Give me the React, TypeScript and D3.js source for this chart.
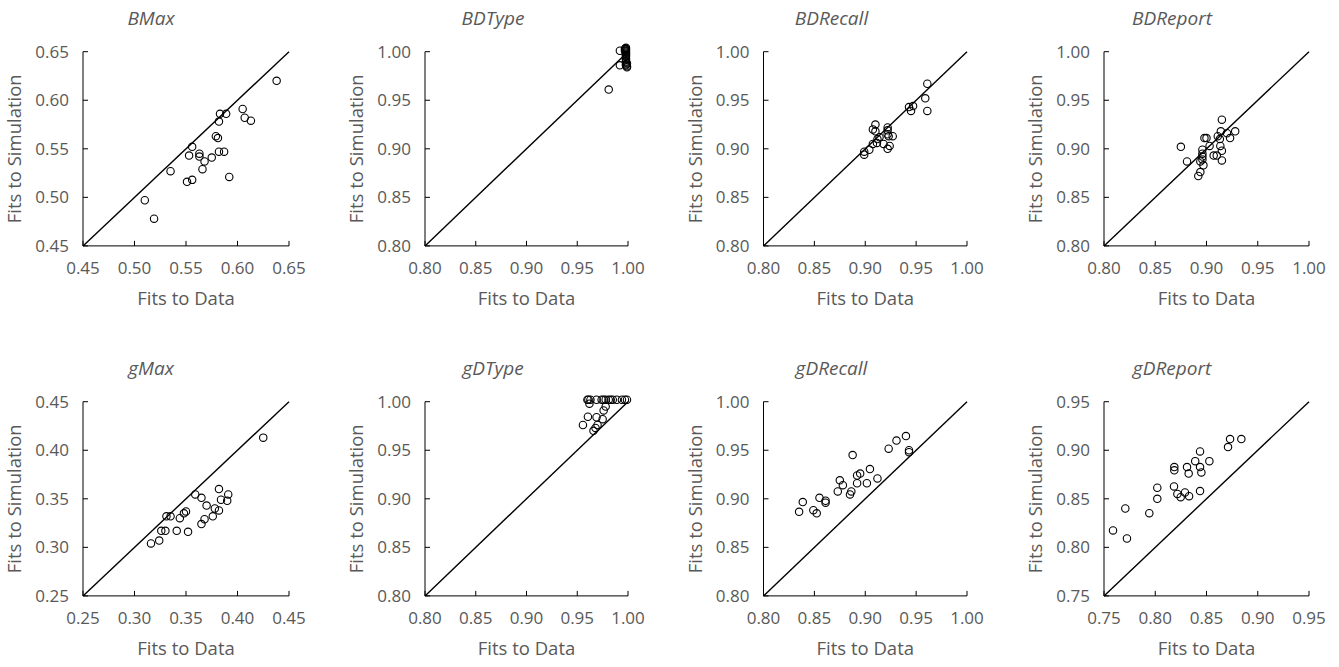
import React from "react";
import * as d3 from "d3";

// ---------- data ----------
const titles = ["BMax", "BDType", "BDRecall", "BDReport", "gMax", "gDType", "gDRecall", "gDReport"];
const domainLo = [0.45, 0.8, 0.8, 0.8, 0.25, 0.8, 0.8, 0.75];
const domainHi = [0.65, 1.0, 1.0, 1.0, 0.45, 1.0, 1.0, 0.95];

const bmaxX = [0.638, 0.605, 0.607, 0.613, 0.583, 0.589, 0.582, 0.579, 0.581, 0.556, 0.553, 0.563, 0.563, 0.568, 0.575, 0.582, 0.587, 0.566, 0.592, 0.535, 0.551, 0.556, 0.510, 0.519];
const bmaxY = [0.620, 0.591, 0.582, 0.579, 0.586, 0.586, 0.578, 0.563, 0.561, 0.552, 0.543, 0.545, 0.542, 0.537, 0.541, 0.547, 0.547, 0.529, 0.521, 0.527, 0.516, 0.518, 0.497, 0.478];

const bdtypeX = [0.981, 0.992, 0.992, 0.998, 0.998, 0.998, 0.998, 0.998, 0.998, 0.998, 0.998, 0.998, 0.998, 0.998, 0.998, 0.998, 0.998, 0.998, 0.998, 0.999, 0.999, 0.997, 0.997, 0.999];
const bdtypeY = [0.961, 1.001, 0.986, 1.004, 1.003, 1.002, 1.001, 1.000, 0.999, 0.998, 0.997, 0.996, 0.995, 0.993, 0.992, 0.990, 0.989, 0.987, 0.986, 0.985, 0.984, 1.003, 1.001, 0.988];

const bdrecallX = [0.961, 0.959, 0.961, 0.943, 0.947, 0.945, 0.910, 0.9075, 0.910, 0.922, 0.922, 0.922, 0.923, 0.927, 0.914, 0.918, 0.924, 0.922, 0.9075, 0.9115, 0.904, 0.899, 0.899, 0.912];
const bdrecallY = [0.967, 0.952, 0.939, 0.943, 0.944, 0.939, 0.925, 0.920, 0.918, 0.922, 0.919, 0.915, 0.913, 0.913, 0.912, 0.905, 0.903, 0.900, 0.905, 0.906, 0.899, 0.897, 0.894, 0.910];

const bdreportX = [0.875, 0.881, 0.915, 0.914, 0.928, 0.920, 0.923, 0.911, 0.913, 0.898, 0.900, 0.903, 0.896, 0.9135, 0.915, 0.915, 0.907, 0.910, 0.896, 0.896, 0.894, 0.897, 0.894, 0.892, 0.896];
const bdreportY = [0.902, 0.887, 0.930, 0.918, 0.918, 0.916, 0.911, 0.913, 0.910, 0.911, 0.911, 0.903, 0.899, 0.903, 0.898, 0.888, 0.893, 0.893, 0.895, 0.892, 0.887, 0.883, 0.876, 0.872, 0.889];

const gmaxX = [0.425, 0.359, 0.365, 0.382, 0.391, 0.390, 0.384, 0.370, 0.378, 0.382, 0.376, 0.368, 0.365, 0.350, 0.348, 0.344, 0.331, 0.335, 0.326, 0.330, 0.341, 0.352, 0.324, 0.316];
const gmaxY = [0.413, 0.3545, 0.351, 0.360, 0.3545, 0.348, 0.349, 0.343, 0.340, 0.338, 0.332, 0.329, 0.324, 0.337, 0.335, 0.330, 0.332, 0.332, 0.317, 0.317, 0.317, 0.316, 0.307, 0.304];

const gdtypeX = [0.960, 0.961, 0.963, 0.969, 0.974, 0.976, 0.978, 0.981, 0.983, 0.985, 0.989, 0.994, 0.997, 0.999, 0.962, 0.9605, 0.9556, 0.969, 0.970, 0.975, 0.966, 0.976, 0.978, 0.968];
const gdtypeY = [1.002, 1.002, 1.002, 1.002, 1.002, 1.002, 1.002, 1.002, 1.002, 1.002, 1.002, 1.002, 1.002, 1.002, 0.998, 0.9845, 0.976, 0.984, 0.976, 0.982, 0.970, 0.991, 0.995, 0.973];

const gdrecallX = [0.940, 0.9307, 0.923, 0.943, 0.943, 0.8876, 0.9046, 0.912, 0.895, 0.892, 0.892, 0.9016, 0.875, 0.878, 0.873, 0.8863, 0.885, 0.855, 0.861, 0.861, 0.8386, 0.835, 0.849, 0.8523];
const gdrecallY = [0.9646, 0.960, 0.9516, 0.950, 0.948, 0.945, 0.9306, 0.921, 0.926, 0.924, 0.916, 0.916, 0.919, 0.914, 0.9076, 0.9076, 0.9045, 0.901, 0.898, 0.896, 0.8966, 0.8866, 0.8883, 0.885];

const gdreportX = [0.884, 0.873, 0.871, 0.8437, 0.839, 0.8528, 0.831, 0.8437, 0.8186, 0.8186, 0.8326, 0.845, 0.8183, 0.802, 0.802, 0.8216, 0.829, 0.8248, 0.833, 0.8437, 0.7942, 0.7708, 0.7588, 0.7724];
const gdreportY = [0.9115, 0.9115, 0.9033, 0.8988, 0.8888, 0.8888, 0.8827, 0.8827, 0.8827, 0.8793, 0.876, 0.8772, 0.8627, 0.8614, 0.850, 0.855, 0.8565, 0.8517, 0.8527, 0.858, 0.8352, 0.840, 0.8174, 0.8091];

const seriesX = [bmaxX, bdtypeX, bdrecallX, bdreportX, gmaxX, gdtypeX, gdrecallX, gdreportX];
const seriesY = [bmaxY, bdtypeY, bdrecallY, bdreportY, gmaxY, gdtypeY, gdrecallY, gdreportY];

const xAxisTitle = "Fits to Data";
const yAxisTitle = "Fits to Simulation";

// ---------- layout ----------
const W = 1339;
const H = 667;
const plotLefts = [83, 425, 763.5, 1104];
const plotWidths = [206, 203, 203.5, 205];
const rowTops = [51.7, 401.7];
const plotH = 194.2;
const FONT = "'Open Sans', 'Noto Sans', sans-serif";
const TEXT = "#595959";

function Panel({ i }: { i: number }) {
  const col = i % 4;
  const row = Math.floor(i / 4);
  const left = plotLefts[col];
  const w = plotWidths[col];
  const top = rowTops[row];
  const lo = domainLo[i];
  const hi = domainHi[i];
  const x = d3.scaleLinear().domain([lo, hi]).range([left, left + w]);
  const y = d3.scaleLinear().domain([lo, hi]).range([top + plotH, top]);
  const ticks = d3.range(0, 5).map((k) => +(lo + k * 0.05).toFixed(2));
  const bottom = top + plotH;
  const fmt = d3.format(".2f");
  const xs = seriesX[i];
  const ys = seriesY[i];
  return (
    <g>
      <text
        x={left + 68}
        y={top - 27}
        textAnchor="middle"
        fontFamily={FONT}
        fontStyle="italic"
        fontSize={19}
        fill={TEXT}
      >
        {titles[i]}
      </text>
      {/* diagonal */}
      <line x1={x(lo)} y1={y(lo)} x2={x(hi)} y2={y(hi)} stroke="#000" strokeWidth={1.4} />
      {/* axes */}
      <line x1={left} y1={top} x2={left} y2={bottom} stroke="#000" strokeWidth={1} />
      <line x1={left} y1={bottom} x2={left + w} y2={bottom} stroke="#000" strokeWidth={1} />
      {ticks.map((t) => (
        <g key={"t" + t}>
          <line x1={left} x2={left + 5} y1={y(t)} y2={y(t)} stroke="#000" strokeWidth={1} />
          <line x1={x(t)} x2={x(t)} y1={bottom} y2={bottom - 5} stroke="#000" strokeWidth={1} />
          <text x={left - 14} y={y(t)} dy="0.36em" textAnchor="end" fontFamily={FONT} fontSize={17} fill={TEXT}>
            {fmt(t)}
          </text>
          <text x={x(t)} y={bottom + 28} textAnchor="middle" fontFamily={FONT} fontSize={17} fill={TEXT}>
            {fmt(t)}
          </text>
        </g>
      ))}
      <text x={left + w / 2} y={bottom + 59} textAnchor="middle" fontFamily={FONT} fontSize={18.5} fill={TEXT}>
        {xAxisTitle}
      </text>
      <text
        transform={`translate(${left - 68},${top + plotH / 2}) rotate(-90)`}
        textAnchor="middle"
        dy="0.35em"
        fontFamily={FONT}
        fontSize={18.5}
        fill={TEXT}
      >
        {yAxisTitle}
      </text>
      {xs.map((v, k) => (
        <circle key={k} cx={x(v)} cy={y(ys[k])} r={3.7} fill="none" stroke="#000" strokeWidth={1.1} />
      ))}
    </g>
  );
}

export default function App() {
  return (
    <svg width={W} height={H} style={{ position: "absolute", left: 0, top: 0, background: "#fff" }}>
      <rect width={W} height={H} fill="#fff" />
      {titles.map((_, i) => (
        <Panel key={i} i={i} />
      ))}
    </svg>
  );
}
